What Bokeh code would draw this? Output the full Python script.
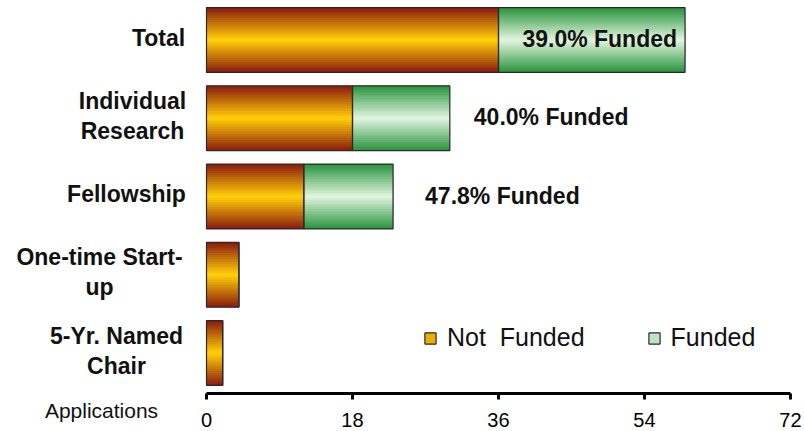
from bokeh.plotting import figure
from bokeh.models import (ColumnDataSource, Label, Legend, LegendItem, FixedTicker, Range1d)
from bokeh.embed import file_html
from bokeh.resources import INLINE

# ---- data ----
categories = ["Total", "Individual\nResearch", "Fellowship", "One-time Start-\nup", "5-Yr. Named\nChair"]
not_funded = [36, 18, 12, 4, 2]
funded = [23, 12, 11, 0, 0]
x_ticks = [0, 18, 36, 54, 72]
legend_labels = ["Not  Funded", "Funded"]
x_axis_title = "Applications"

# ---- styling ----
FONT = "Liberation Sans"
NF_EDGE, NF_CENTER = (140, 30, 14), (255, 204, 8)
F_EDGE, F_CENTER = (44, 150, 64), (222, 243, 220)
N_LAYERS = 18
BAR_H = 0.83

W, H = 804, 431
PX_X = 8.111          # px per application
PX_Y = 78.25          # px per category slot
LEFT_PX = 206         # x of value 0
TOP_CENTER_PX = 39.5  # y of first category centre
AXIS_PX = 393         # y of x axis line

n = len(categories)
ys = [n - 1 - i for i in range(n)]
totals = [a + b for a, b in zip(not_funded, funded)]

y_top = (n - 1) + TOP_CENTER_PX / PX_Y
y_bot = y_top - H / PX_Y
axis_y = y_top - AXIS_PX / PX_Y

p = figure(width=W, height=H, output_backend="svg", toolbar_location=None,
           x_range=Range1d(-LEFT_PX / PX_X, (W - LEFT_PX) / PX_X),
           y_range=Range1d(y_bot, y_top),
           min_border=0)
p.outline_line_color = None
p.grid.visible = False
p.yaxis.visible = False

src = ColumnDataSource(dict(y=ys, nf=not_funded, tot=totals, zero=[0] * n))


def lerp(c1, c2, t):
    return "#%02x%02x%02x" % tuple(int(round(a + (b - a) * t)) for a, b in zip(c1, c2))


nf_layers, f_layers = [], []
for i in range(N_LAYERS):
    t = i / (N_LAYERS - 1)
    h = BAR_H * (1 - i / N_LAYERS)
    nf_layers.append(p.hbar(y="y", left="zero", right="nf", height=h, source=src,
                            fill_color=lerp(NF_EDGE, NF_CENTER, t), line_color=None))
    f_layers.append(p.hbar(y="y", left="nf", right="tot", height=h, source=src,
                           fill_color=lerp(F_EDGE, F_CENTER, t), line_color=None))

nf_out = p.hbar(y="y", left="zero", right="nf", height=BAR_H, source=src,
                fill_color=None, line_color="#2a2a2a", line_width=1.2)
f_out = p.hbar(y="y", left="nf", right="tot", height=BAR_H, source=src,
               fill_color=None, line_color="#2a2a2a", line_width=1.2)

# x axis, drawn at a fixed location inside the frame, restricted to 0..72
ax = p.xaxis[0]
ax.fixed_location = axis_y
ax.bounds = (x_ticks[0], x_ticks[-1])
ax.ticker = FixedTicker(ticks=x_ticks)
ax.axis_line_width = 3
ax.axis_line_color = "black"
ax.major_tick_line_width = 3
ax.major_tick_in = 0
ax.major_tick_out = 6
ax.minor_tick_line_color = None
ax.major_label_standoff = 13
ax.major_label_text_font = FONT
ax.major_label_text_font_size = "20px"
ax.major_label_text_color = "black"

# category labels (centred lines, block ending left of the bars)
center_off = [-48, -74, -80, -107, -90]
LINE_GAP = 15 / PX_Y
for cat, y, off in zip(categories, ys, center_off):
    lines = cat.split("\n")
    k = len(lines)
    for j, line in enumerate(lines):
        yy = y + 2.5 / PX_Y + (k - 1) * LINE_GAP - 2 * LINE_GAP * j
        p.add_layout(Label(x=0, y=yy, x_offset=off, text=line, text_align="center",
                           text_baseline="middle", text_font=FONT, text_font_style="bold",
                           text_font_size="23px", text_color="#111111"))

# percentage annotations
pct_align = ["right", "left", "left"]
pct_off = [-8, 24, 32]
for i in range(3):
    pct = 100.0 * funded[i] / totals[i]
    p.add_layout(Label(x=totals[i], y=ys[i] + 1.0 / PX_Y, x_offset=pct_off[i],
                       text="%.1f%% Funded" % pct, text_align=pct_align[i],
                       text_baseline="middle", text_font=FONT, text_font_style="bold",
                       text_font_size="23px", text_color="#111111"))

# "Applications" title at the left end of the axis
p.add_layout(Label(x=0, y=axis_y - 17 / PX_Y, x_offset=-105, text=x_axis_title,
                   text_align="center", text_baseline="middle", text_font=FONT,
                   text_font_size="21px", text_color="#111111"))

# legend
legend = Legend(items=[LegendItem(label=legend_labels[0], renderers=[nf_layers[14], nf_out]),
                       LegendItem(label=legend_labels[1], renderers=[f_layers[14], f_out])],
                location=(423, 79), orientation="horizontal",
                glyph_width=14, glyph_height=14, label_standoff=10, spacing=62,
                padding=0, margin=0, border_line_color=None, background_fill_alpha=0,
                label_text_font=FONT, label_text_font_size="25px",
                label_text_color="#111111")
p.add_layout(legend)

open("out.html", "w").write(file_html(p, INLINE))
